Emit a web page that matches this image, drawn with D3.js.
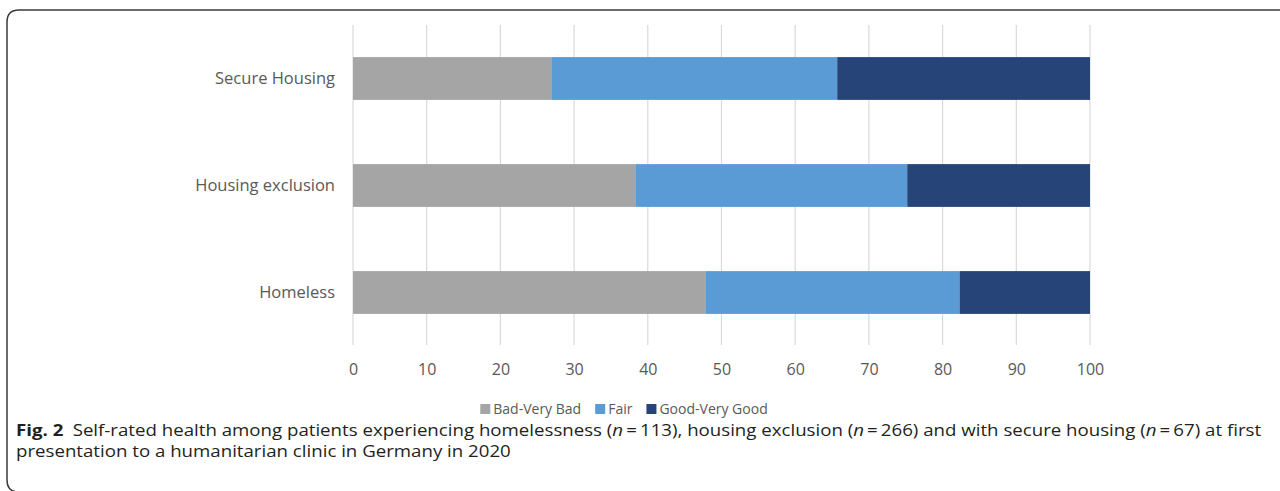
<!DOCTYPE html>
<html>
<head>
<meta charset="utf-8">
<script src="https://cdn.jsdelivr.net/npm/d3@7"></script>
<style>
  html, body { margin: 0; padding: 0; background: #fff; }
  svg { display: block; }
</style>
</head>
<body>
<svg id="chart" width="1280" height="491"></svg>
<script>
// ---- data ----
const categories = ["Secure Housing", "Housing exclusion", "Homeless"];
const seriesNames = ["Bad-Very Bad", "Fair", "Good-Very Good"];
const badVeryBad = [26.9, 38.3, 47.8];
const fair = [38.8, 36.9, 34.5];
const goodVeryGood = [34.3, 24.8, 17.7];
const xTicks = [0, 10, 20, 30, 40, 50, 60, 70, 80, 90, 100];
const colors = ["#a5a5a5", "#5b9bd5", "#264478"];

const svg = d3.select("#chart");
const textColor = "#595959";
const font = "'Open Sans', 'Noto Sans', sans-serif";

// frame
svg.append("path")
  .attr("d", "M1290,10 L19,10 Q7,10 7,22 L7,480 Q7,492 19,492 L1290,492")
  .attr("fill", "none").attr("stroke", "#3a3a3a").attr("stroke-width", 1.5);

// scales
const x = d3.scaleLinear().domain([0, 100]).range([353, 1090]);
const y = d3.scaleBand().domain(categories).range([25, 346]).paddingInner(0.6).paddingOuter(0.3);

// gridlines
svg.append("g").selectAll("line").data(xTicks).join("line")
  .attr("x1", d => x(d)).attr("x2", d => x(d))
  .attr("y1", 25).attr("y2", 345)
  .attr("stroke", "#d9d9d9").attr("stroke-width", 1.2);

// stacked data
const rows = categories.map((c, i) => ({ cat: c, "Bad-Very Bad": badVeryBad[i], "Fair": fair[i], "Good-Very Good": goodVeryGood[i] }));
const stack = d3.stack().keys(seriesNames)(rows);

svg.append("g").selectAll("g").data(stack).join("g")
  .attr("fill", (d, i) => colors[i])
  .selectAll("rect").data(d => d).join("rect")
  .attr("x", d => x(d[0]))
  .attr("width", d => x(d[1]) - x(d[0]))
  .attr("y", d => y(d.data.cat))
  .attr("height", y.bandwidth());

// category labels
svg.append("g").selectAll("text").data(categories).join("text")
  .attr("x", 335).attr("y", d => y(d) + y.bandwidth() / 2)
  .attr("dy", "0.35em")
  .attr("text-anchor", "end")
  .attr("fill", textColor).style("font-family", font).style("font-size", "16.5px")
  .text(d => d);

// x axis tick labels
const xAxis = d3.axisBottom(x).tickValues(xTicks).tickSize(0).tickPadding(0).tickFormat(d3.format("d"));
const gx = svg.append("g").attr("transform", "translate(0,364)").call(xAxis);
gx.select(".domain").remove();
gx.selectAll("text").attr("fill", textColor).style("font-family", font).style("font-size", "16px");

// legend
const legend = svg.append("g");
let lx = 0;
seriesNames.forEach((name, i) => {
  const g = legend.append("g").attr("transform", `translate(${lx},0)`);
  g.append("rect").attr("x", 0).attr("y", -5).attr("width", 10).attr("height", 10).attr("fill", colors[i]);
  const t = g.append("text").attr("x", 13).attr("y", 0).attr("dy", "0.35em")
    .attr("fill", textColor).style("font-family", font).style("font-size", "14px").text(name);
  const w = t.node().getComputedTextLength();
  lx += 13 + w + 14;
});
const legendWidth = lx - 14;
legend.attr("transform", `translate(${624 - legendWidth / 2},409)`);

// caption
const cap = svg.append("g");
const capFont = "'Open Sans', 'Noto Sans', sans-serif";
const line1 = cap.append("text").attr("x", 0).attr("y", 436)
  .attr("fill", "#231f20").style("font-family", capFont).style("font-size", "16px");
line1.append("tspan").style("font-weight", "bold").text("Fig. 2");
line1.append("tspan").text("\u2002Self-rated health among patients experiencing homelessness (");
line1.append("tspan").style("font-style", "italic").text("n");
line1.append("tspan").text("\u2009=\u2009113), housing exclusion (");
line1.append("tspan").style("font-style", "italic").text("n");
line1.append("tspan").text("\u2009=\u2009266) and with secure housing (");
line1.append("tspan").style("font-style", "italic").text("n");
line1.append("tspan").text("\u2009=\u200967) at first");
const line2 = cap.append("text").attr("x", 0).attr("y", 457)
  .attr("fill", "#231f20").style("font-family", capFont).style("font-size", "16px")
  .text("presentation to a humanitarian clinic in Germany in 2020");
const natural = line1.node().getComputedTextLength();
const k = (1262 - 16) / natural;
cap.attr("transform", `translate(16,0) scale(${k},1)`);
</script>
</body>
</html>
